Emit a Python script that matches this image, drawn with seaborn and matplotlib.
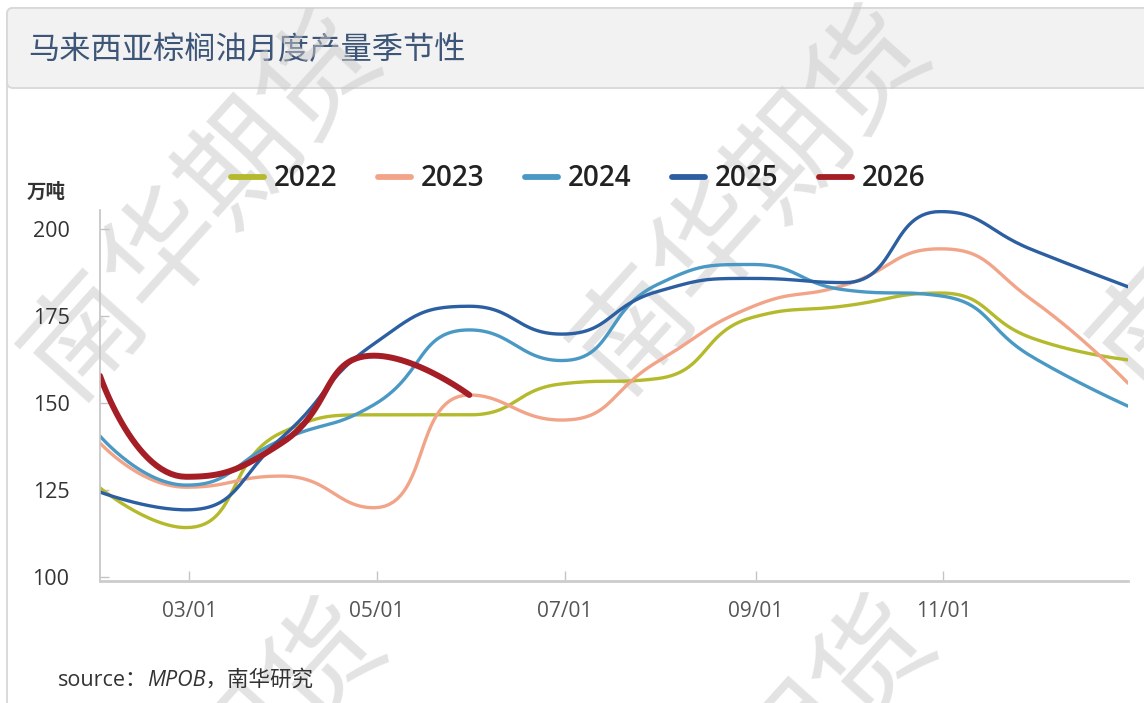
import numpy as np
import pandas as pd
import matplotlib
matplotlib.use("Agg")
import matplotlib.pyplot as plt
import seaborn as sns
from matplotlib.patches import FancyBboxPatch
from matplotlib.lines import Line2D
from matplotlib.transforms import IdentityTransform
from matplotlib.font_manager import FontProperties

# ---------------- data ----------------
month_end_doy = [31, 59, 90, 120, 151, 181, 212, 243, 273, 304, 334, 365]
years = ["2022", "2023", "2024", "2025", "2026"]
v2022 = [125.6, 114.2, 141.5, 146.6, 146.6, 155.5, 157.0, 174.6, 177.9, 181.6, 168.6, 162.4]
v2023 = [138.5, 125.8, 129.0, 119.9, 152.3, 145.1, 161.8, 177.7, 183.9, 194.3, 179.5, 155.7]
v2024 = [140.5, 126.4, 139.4, 149.5, 171.0, 162.2, 184.0, 189.8, 182.5, 180.8, 163.2, 149.1]
v2025 = [124.4, 119.3, 140.0, 167.0, 177.8, 169.8, 182.0, 185.8, 184.6, 205.0, 194.0, 183.4]
v2026 = [157.8, 128.8, 138.5, 163.6, 152.3]
series = [v2022, v2023, v2024, v2025, v2026]
colors = ["#b4ba2c", "#f2a489", "#4a99c5", "#2c5fa2", "#a51e26"]
tick_doy = [60, 121, 182, 244, 305]
tick_labels = ["03/01", "05/01", "07/01", "09/01", "11/01"]
yticks = [100, 125, 150, 175, 200]
title = "马来西亚棕榈油月度产量季节性"
unit = "万吨"

# ---------------- helpers ----------------
W, H = 1144, 703
def fx(x):
    return x / W
def fy(y):
    return 1 - y / H

PX_DAY = 1028 / 334.0
PX_UNIT = 3.48

def echarts_smooth(xs, ys, smooth=0.5, n=30):
    px = [x * PX_DAY for x in xs]
    py = [y * PX_UNIT for y in ys]
    N = len(px)
    ox, oy = [px[0]], [py[0]]
    cp0x, cp0y = px[0], py[0]
    for i in range(1, N):
        x, y = px[i], py[i]
        prx, pry = px[i - 1], py[i - 1]
        if i == N - 1:
            cp1x, cp1y = x, y
            ncx, ncy = x, y
        else:
            nx, ny = px[i + 1], py[i + 1]
            vx, vy = nx - prx, ny - pry
            lp = np.hypot(x - prx, y - pry)
            ln = np.hypot(nx - x, ny - y)
            r = ln / (ln + lp)
            ncx = x + vx * smooth * r
            ncy = y + vy * smooth * r
            ncx = min(ncx, max(nx, x)); ncy = min(ncy, max(ny, y))
            ncx = max(ncx, min(nx, x)); ncy = max(ncy, min(ny, y))
            vx, vy = ncx - x, ncy - y
            cp1x = x - vx * lp / ln; cp1y = y - vy * lp / ln
            cp1x = min(cp1x, max(prx, x)); cp1y = min(cp1y, max(pry, y))
            cp1x = max(cp1x, min(prx, x)); cp1y = max(cp1y, min(pry, y))
            vx, vy = x - cp1x, y - cp1y
            ncx = x + vx * ln / lp; ncy = y + vy * ln / lp
        t = np.linspace(0, 1, n)[1:]
        a = (1 - t) ** 3; b = 3 * (1 - t) ** 2 * t; c = 3 * (1 - t) * t ** 2; d = t ** 3
        ox.extend(a * prx + b * cp0x + c * cp1x + d * x)
        oy.extend(a * pry + b * cp0y + c * cp1y + d * y)
        cp0x, cp0y = ncx, ncy
    return np.array(ox) / PX_DAY, np.array(oy) / PX_UNIT

# ---------------- style ----------------
sns.set_theme(style="white")
plt.rcParams["font.family"] = ["Open Sans", "Noto Sans CJK SC", "DejaVu Sans"]

fig = plt.figure(figsize=(W / 100, H / 100), dpi=100)
fig.patch.set_facecolor("white")

# card and title bar (pixel coordinates)
card = FancyBboxPatch((7, -20), 1160, H - 8 + 20, boxstyle="round,pad=0,rounding_size=6",
                      transform=IdentityTransform(), facecolor="white", edgecolor="#d8d8d8",
                      linewidth=1.3, zorder=-5)
fig.patches.append(card)
bar = FancyBboxPatch((7, H - 88), 1160, 80, boxstyle="round,pad=0,rounding_size=6",
                     transform=IdentityTransform(), facecolor="#f2f2f2", edgecolor="#d8d8d8",
                     linewidth=1.3, zorder=-4)
fig.patches.append(bar)
fig.text(fx(28), fy(50), title, fontsize=22.5, color="#3d5678", va="center", ha="left",
         family=["Noto Sans CJK SC", "DejaVu Sans"], zorder=-3)

# watermarks
wm_centers = [(203, 206), (752, 200), (1272, 196), (208, 793), (758, 790)]
for cx, cy in wm_centers:
    fig.text(fx(cx), fy(cy), "南华期货", fontsize=84, rotation=48, rotation_mode="anchor",
             ha="center", va="center", color="#c8c8c8", alpha=0.5,
             family=["Noto Sans CJK SC", "DejaVu Sans"], zorder=-1)

# ---------------- axes ----------------
ax = fig.add_axes([fx(100), fy(581), 1028 / W, (581 - 210) / H])
ax.set_facecolor("none")

rows = []
for yr, vals in zip(years, series):
    sx, sy = echarts_smooth(month_end_doy[:len(vals)], vals)
    rows.append(pd.DataFrame({"x": sx, "y": sy, "year": yr}))
df = pd.concat(rows, ignore_index=True)

for yr, col in zip(years, colors):
    lw = 4.3 if yr == "2026" else 2.4
    sns.lineplot(data=df[df["year"] == yr], x="x", y="y", color=col, linewidth=lw,
                 sort=False, estimator=None, ax=ax, legend=False)

ax.set_xlim(31, 365)
ax.set_ylim(98.85, 205.46)
ax.set_xticks(tick_doy)
ax.set_xticklabels(tick_labels)
ax.set_yticks(yticks)
ax.set_yticklabels([str(v) for v in yticks])
ax.set_xlabel("")
ax.set_ylabel("")
for s in ["top", "right"]:
    ax.spines[s].set_visible(False)
ax.spines["left"].set_color("#c4c4c4")
ax.spines["left"].set_linewidth(1.2)
ax.spines["bottom"].set_color("#cccccc")
ax.spines["bottom"].set_linewidth(2.0)
ax.tick_params(axis="y", direction="in", length=6.5, width=1, color="#c4c4c4",
               labelsize=15.5, labelcolor="#333333", pad=22, left=True)
ax.tick_params(axis="x", direction="in", length=7, width=1, color="#c4c4c4",
               labelsize=15, labelcolor="#555555", pad=14.5, bottom=True)
ax.grid(False)

# unit label
fig.text(fx(46), fy(192), unit, fontsize=14, color="#333333", ha="center", va="center",
         family=["Noto Sans CJK SC", "DejaVu Sans"], weight="bold")

# legend
handles = [Line2D([0], [0], color=c, linewidth=4.2) for c in colors]
lp = FontProperties(family="Open Sans", weight="semibold", size=20)
fig.legend(handles, years, loc="center", bbox_to_anchor=(fx(578), fy(179)), ncol=5,
           frameon=False, prop=lp, handlelength=1.2, handletextpad=0.35, columnspacing=1.45,
           labelcolor="#222222")

# source
r = fig.canvas.get_renderer()
t1 = fig.text(fx(58), fy(680), "source：", fontsize=15.5, color="#333333", ha="left", va="center",
              family=["Open Sans", "Noto Sans CJK SC"])
bb = t1.get_window_extent(renderer=r)
fig.text(bb.x1 / W, fy(680), "MPOB，南华研究", fontsize=15.5, color="#333333", ha="left",
         va="center", style="italic", family=["Open Sans", "Noto Sans CJK SC"])

fig.savefig("out.png", dpi=100)
